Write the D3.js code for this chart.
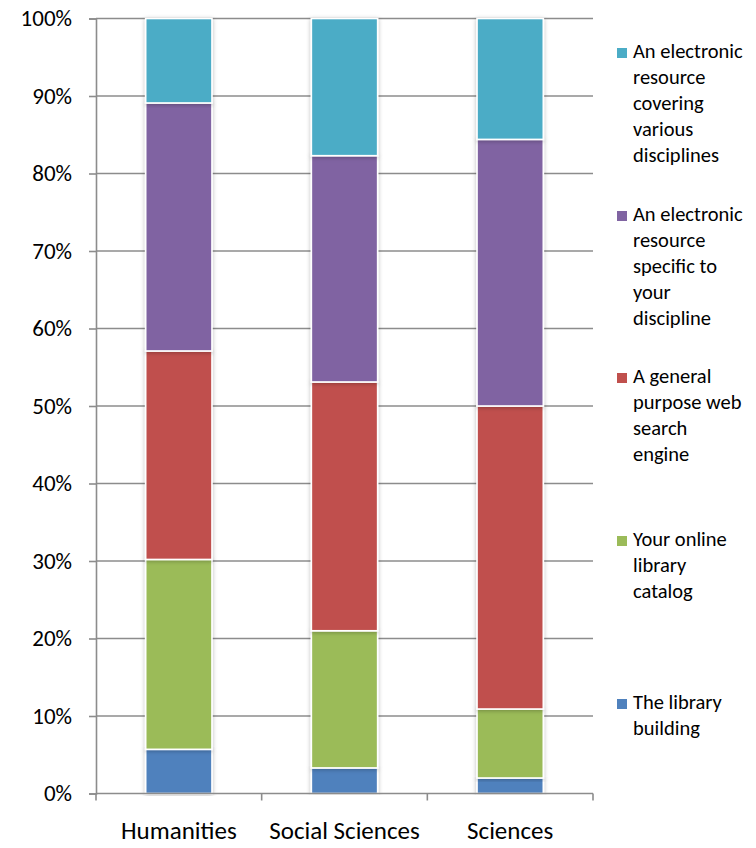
<!DOCTYPE html>
<html>
<head>
<meta charset="utf-8">
<script src="https://cdn.jsdelivr.net/npm/d3@7"></script>
<style>
  html, body { margin: 0; padding: 0; background: #fff; }
  svg { display: block; font-family: Carlito, Calibri, Lato, "Open Sans", sans-serif; }
</style>
</head>
<body>
<svg id="chart" width="756" height="848"></svg>
<script>
// Categories and series (percent of respondents, stacked to 100%)
const categories = ["Humanities", "Social Sciences", "Sciences"];
const seriesNames = [
  "The library building",
  "Your online library catalog",
  "A general purpose web search engine",
  "An electronic resource specific to your discipline",
  "An electronic resource covering various disciplines"
];
const libraryBuilding   = [5.7, 3.3, 2.0];
const onlineCatalog     = [24.5, 17.7, 8.9];
const webSearchEngine   = [26.9, 32.1, 39.1];
const disciplineSpecific = [32.0, 29.2, 34.4];
const variousDisciplines = [10.9, 17.7, 15.6];
const yTicks = [0, 10, 20, 30, 40, 50, 60, 70, 80, 90, 100];
const legendLines = [
  ["An electronic", "resource", "covering", "various", "disciplines"],
  ["An electronic", "resource", "specific to", "your", "discipline"],
  ["A general", "purpose web", "search", "engine"],
  ["Your online", "library", "catalog"],
  ["The library", "building"]
];
const colors = ["#4F81BD", "#9BBB59", "#C0504D", "#8064A2", "#4BACC6"];

const seriesValues = [libraryBuilding, onlineCatalog, webSearchEngine, disciplineSpecific, variousDisciplines];
const rows = categories.map((c, i) => {
  const r = { category: c };
  seriesNames.forEach((s, k) => r[s] = seriesValues[k][i]);
  return r;
});

const svg = d3.select("#chart");
const plotLeft = 96, plotRight = 593, plotTop = 18.5, plotBottom = 793.5;

const x = d3.scaleBand().domain(categories).range([plotLeft, plotRight]).paddingInner(0.6).paddingOuter(0.3);
const y = d3.scaleLinear().domain([0, 100]).range([plotBottom, plotTop]);

const defs = svg.append("defs");
const f = defs.append("filter").attr("id", "shadow").attr("x", "-20%").attr("y", "-5%").attr("width", "140%").attr("height", "110%");
f.append("feDropShadow").attr("dx", 0).attr("dy", 1).attr("stdDeviation", 2).attr("flood-color", "#000").attr("flood-opacity", 0.28);

// Gridlines
svg.append("g").selectAll("line").data(yTicks.filter(d => d > 0)).join("line")
  .attr("x1", plotLeft).attr("x2", plotRight)
  .attr("y1", d => y(d)).attr("y2", d => y(d))
  .attr("stroke", "#8c8c8c").attr("stroke-width", 1.6);

// Y axis
const yAxis = svg.append("g").attr("transform", `translate(${plotLeft},0)`)
  .call(d3.axisLeft(y).tickValues(yTicks).tickFormat(d => d + "%").tickSize(7).tickPadding(17));
yAxis.select(".domain").attr("stroke", "#8c8c8c").attr("stroke-width", 1.6);
yAxis.selectAll(".tick line").attr("stroke", "#8c8c8c").attr("stroke-width", 1.6);
yAxis.selectAll(".tick text").attr("font-size", 23).attr("fill", "#000")
  .attr("font-family", "Carlito, Calibri, Lato, 'Open Sans', sans-serif");

// Stacked bars
const stack = d3.stack().keys(seriesNames);
const layers = stack(rows);
svg.append("g").selectAll("g").data(layers).join("g")
  .attr("fill", (d, i) => colors[i])
  .selectAll("rect").data(d => d).join("rect")
  .attr("x", d => x(d.data.category))
  .attr("width", x.bandwidth())
  .attr("y", d => y(d[1]))
  .attr("height", d => y(d[0]) - y(d[1]))
  .attr("stroke", "#fff").attr("stroke-width", 1.6)
  .attr("filter", "url(#shadow)");

// X axis with boundary ticks
const xg = svg.append("g");
xg.append("line").attr("x1", plotLeft).attr("x2", plotRight).attr("y1", plotBottom).attr("y2", plotBottom)
  .attr("stroke", "#8c8c8c").attr("stroke-width", 1.6);
const step = (plotRight - plotLeft) / categories.length;
xg.selectAll("line.tk").data(d3.range(categories.length + 1)).join("line").attr("class", "tk")
  .attr("x1", i => plotLeft + i * step).attr("x2", i => plotLeft + i * step)
  .attr("y1", plotBottom).attr("y2", plotBottom + 7)
  .attr("stroke", "#8c8c8c").attr("stroke-width", 1.6);
xg.selectAll("text").data(categories).join("text")
  .attr("x", d => x(d) + x.bandwidth() / 2)
  .attr("y", 839)
  .attr("text-anchor", "middle")
  .attr("font-size", 25)
  .attr("fill", "#000")
  .text(d => d);

// Legend (top entry is the last series)
const legendStarts = [52, 215, 377, 540, 703];
const lg = svg.append("g");
legendLines.forEach((lines, i) => {
  const colorIdx = seriesNames.length - 1 - i;
  lg.append("rect").attr("x", 617).attr("y", legendStarts[i] - 4).attr("width", 10).attr("height", 10)
    .attr("fill", colors[colorIdx]);
  lg.append("text").attr("x", 633).attr("y", legendStarts[i] + 6).attr("font-size", 20.5).attr("fill", "#000")
    .selectAll("tspan").data(lines).join("tspan")
    .attr("x", 633).attr("dy", (d, j) => j === 0 ? 0 : 26)
    .text(d => d);
});
</script>
</body>
</html>
